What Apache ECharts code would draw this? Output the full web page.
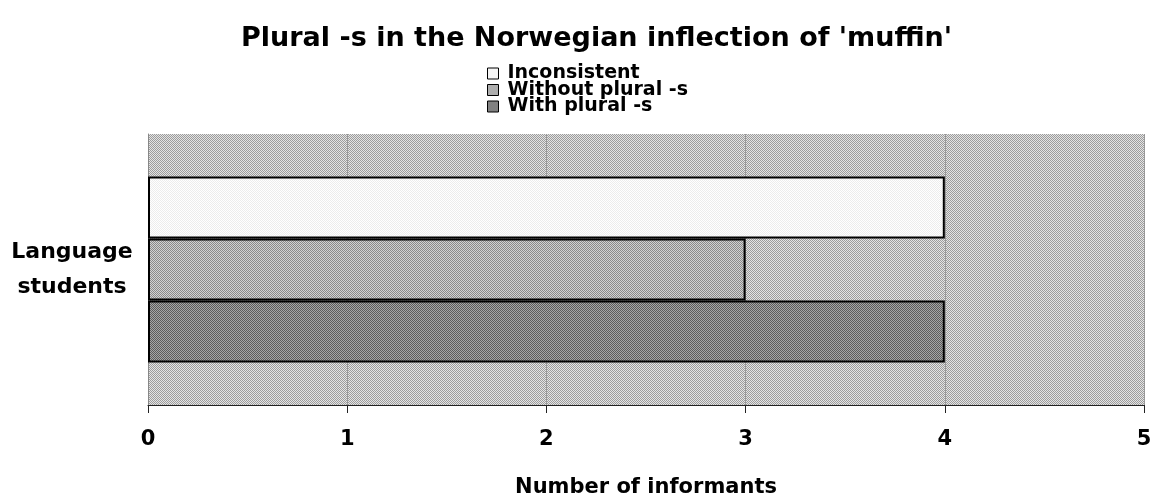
<!DOCTYPE html>
<html>
<head>
<meta charset="utf-8">
<script src="https://cdn.jsdelivr.net/npm/echarts@6/dist/echarts.min.js"></script>
<style>
html,body{margin:0;padding:0;background:#fff;}
#chart{width:1155px;height:503px;}
</style>
</head>
<body>
<div id="chart"></div>
<script>
// ---- data ----
const titleText = "Plural -s in the Norwegian inflection of 'muffin'";
const categories = ['Language\nstudents'];
const seriesNames = ['Inconsistent', 'Without plural -s', 'With plural -s'];
const inconsistent = [4];
const withoutPlural = [3];
const withPlural = [4];
const legendOrder = ['Inconsistent', 'Without plural -s', 'With plural -s'];
const xAxisName = 'Number of informants';

// ---- halftone-like patterns ----
function pattern(a, b) {
  const c = document.createElement('canvas');
  c.width = 2; c.height = 2;
  const g = c.getContext('2d');
  g.fillStyle = b; g.fillRect(0, 0, 2, 2);
  g.fillStyle = a; g.fillRect(0, 0, 1, 1); g.fillRect(1, 1, 1, 1);
  return { image: c, repeat: 'repeat' };
}
const bgPat = pattern('#9c9c9c', '#e4e4e4');
const pInc = pattern('#ececec', '#ffffff');
const pWithout = pattern('#8a8a8a', '#d2d2d2');
const pWith = pattern('#5c5c5c', '#a6a6a6');

const FONT = 'DejaVu Sans';
const chart = echarts.init(document.getElementById('chart'));
chart.setOption({
  backgroundColor: '#fff',
  animation: false,
  title: {
    text: titleText, left: 236, top: 20,
    textStyle: { fontFamily: FONT, fontWeight: 'bold', fontSize: 27, color: '#000' }
  },
  legend: {
    data: legendOrder, orient: 'vertical', left: 482, top: 59,
    icon: 'rect', itemWidth: 11, itemHeight: 11, itemGap: -2.5,
    itemStyle: { borderWidth: 1, borderColor: '#000' },
    textStyle: { fontFamily: FONT, fontWeight: 'bold', fontSize: 19, color: '#000', lineHeight: 16, padding: [0,0,0,4] }
  },
  grid: {
    left: 148, right: 11, top: 134, bottom: 91,
    show: true, backgroundColor: bgPat, borderWidth: 0
  },
  xAxis: {
    type: 'value', min: 0, max: 5, interval: 1,
    name: xAxisName, nameLocation: 'middle', nameGap: 72,
    nameTextStyle: { fontFamily: FONT, fontWeight: 'bold', fontSize: 21, color: '#000' },
    axisLine: { show: true, lineStyle: { color: '#222', width: 1 } },
    axisTick: { show: true, inside: false, length: 8, lineStyle: { color: '#222' } },
    axisLabel: { fontFamily: FONT, fontWeight: 'bold', fontSize: 21, color: '#000', margin: 24 },
    splitLine: { show: true, lineStyle: { color: '#999', width: 1 } }
  },
  yAxis: {
    type: 'category', data: categories,
    axisLine: { show: true, lineStyle: { color: '#888', width: 1 } },
    axisTick: { show: false },
    axisLabel: { fontFamily: FONT, fontWeight: 'bold', fontSize: 22, color: '#000', align: 'center', margin: 76, lineHeight: 35 }
  },
  series: [
    { name: seriesNames[0], type: 'bar', data: inconsistent, barWidth: 62, barGap: '0%',
      itemStyle: { color: pInc, borderColor: '#000', borderWidth: 2 } },
    { name: seriesNames[1], type: 'bar', data: withoutPlural, barWidth: 62, barGap: '0%',
      itemStyle: { color: pWithout, borderColor: '#000', borderWidth: 2 } },
    { name: seriesNames[2], type: 'bar', data: withPlural, barWidth: 62, barGap: '0%',
      itemStyle: { color: pWith, borderColor: '#000', borderWidth: 2 } }
  ]
});
</script>
</body>
</html>
